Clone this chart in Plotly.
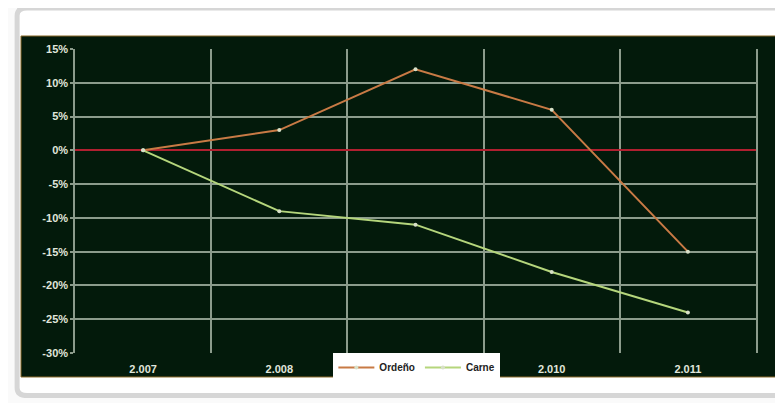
import plotly.graph_objects as go

years = ["2.007", "2.008", "2.009", "2.010", "2.011"]
ordeno = [0, 3, 12, 6, -15]
carne = [0, -9, -11, -18, -24]
y_ticks = [15, 10, 5, 0, -5, -10, -15, -20, -25, -30]

fig = go.Figure()

fig.add_trace(go.Scatter(
    x=years, y=ordeno, name="Ordeño", mode="lines+markers",
    line=dict(color="#c87a45", width=2),
    marker=dict(size=4, color="#d8e0c8"),
))
fig.add_trace(go.Scatter(
    x=years, y=carne, name="Carne", mode="lines+markers",
    line=dict(color="#b5d67c", width=2),
    marker=dict(size=4, color="#d8e0c8"),
))

# outer card and dark chart panel
fig.add_shape(type="path", xref="paper", yref="paper",
              path="M -0.085,1.135 L 1.03,1.135 Q 1.045,1.135 1.045,1.11 L 1.045,-0.14 "
                   "L -0.07,-0.14 Q -0.085,-0.14 -0.085,-0.115 L -0.085,1.11 Q -0.085,1.135 -0.07,1.135 Z",
              fillcolor="white", line=dict(color="#d6d6d6", width=5), layer="below")
fig.add_shape(type="rect", xref="paper", yref="paper",
              x0=-0.0793, x1=1.0352, y0=-0.0789, y1=1.0428,
              fillcolor="#031a0b", line=dict(color="#8a6a2a", width=1), layer="below")

fig.update_layout(
    width=775, height=395,
    margin=dict(l=67, r=27, t=41, b=50),
    paper_bgcolor="#fafafa",
    plot_bgcolor="rgba(0,0,0,0)",
    font=dict(family="Liberation Sans", size=10, color="#e0e6dc"),
    showlegend=True,
    legend=dict(orientation="h", x=0.502, xanchor="center", y=0.0, yanchor="top",
                bgcolor="white", font=dict(color="#222222", size=10, weight="bold"),
                itemwidth=36, borderwidth=0),
    xaxis=dict(
        type="category", tickson="boundaries", showgrid=True,
        range=[-0.5, 4.5],
        gridcolor="#8c9c8c", gridwidth=1.5, ticks="", showline=False,
        tickfont=dict(color="#e0e6dc", size=11, weight="bold"), ticklabelstandoff=8,
        zeroline=False,
    ),
    yaxis=dict(
        range=[-30, 15], tickvals=y_ticks,
        ticktext=[f"{v}%" for v in y_ticks],
        showgrid=True, gridcolor="#8c9c8c", gridwidth=1.5,
        showline=True, mirror=True, linecolor="#8c9c8c", linewidth=1.5,
        zeroline=True, zerolinecolor="#b02030", zerolinewidth=2,
        ticks="outside", ticklen=3, tickcolor="#8c9c8c", tickwidth=1.5,
        tickfont=dict(color="#e0e6dc", size=11, weight="bold"),
    ),
)

fig.write_html("out.html")
